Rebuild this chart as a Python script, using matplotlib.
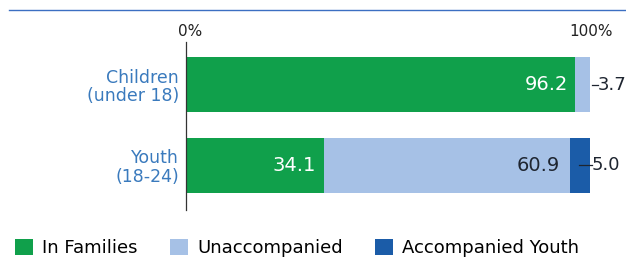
import matplotlib.pyplot as plt
import matplotlib.lines as mlines

groups = ['Children\n(under 18)', 'Youth\n(18-24)']
in_families = [96.2, 34.1]
unaccompanied = [3.7, 60.9]
accompanied_youth = [0.0, 5.0]
series_names = ['In Families', 'Unaccompanied', 'Accompanied Youth']

green = '#10a04b'
light_blue = '#a6c1e6'
dark_blue = '#1b5ca8'
label_blue = '#3a7abd'
dark_text = '#1e2530'

plt.rcParams['font.family'] = ['DejaVu Sans']

fig = plt.figure(figsize=(6.26, 2.58), dpi=100)
# axes spans x 186..590 px and y 42..210 px
ax = fig.add_axes([186 / 626, 1 - 210 / 258, 404 / 626, 168 / 258])

y = list(range(len(groups)))
h = 0.68
left3 = [a + b for a, b in zip(in_families, unaccompanied)]
b1 = ax.barh(y, in_families, height=h, color=green, label=series_names[0])
b2 = ax.barh(y, unaccompanied, left=in_families, height=h, color=light_blue, label=series_names[1])
b3 = ax.barh(y, accompanied_youth, left=left3, height=h, color=dark_blue, label=series_names[2])

ax.set_xlim(0, 100)
ax.set_ylim(1.55, -0.525)
for s in ['top', 'right', 'bottom']:
    ax.spines[s].set_visible(False)
ax.spines['left'].set_color('#333333')
ax.spines['left'].set_linewidth(0.9)
ax.set_yticks(y)
ax.set_yticklabels(groups, color=label_blue, fontsize=12.5, linespacing=1.05)
ax.tick_params(axis='y', length=0, pad=5)
ax.set_xticks([])
for xv, lab in [(0, '0%'), (100, '100%')]:
    ax.annotate(lab, xy=(xv, 1), xycoords=('data', 'axes fraction'), xytext=(3 if xv == 0 else 1, 2),
                textcoords='offset points', ha='center', va='bottom', fontsize=11, color='#222222')

# inside labels
ax.text(in_families[0] - 1.5, 0, f'{in_families[0]:.1f}', ha='right', va='center', color='white', fontsize=14)
ax.text(in_families[1] - 2.0, 1, f'{in_families[1]:.1f}', ha='right', va='center', color='white', fontsize=14)
ax.text(left3[1] - 2.4, 1, f'{unaccompanied[1]:.1f}', ha='right', va='center', color=dark_text, fontsize=14)

# outside labels with leader lines
end0 = left3[0]
ax.plot([end0 + 0.6, end0 + 2.0], [0, 0], color=dark_text, lw=0.9, clip_on=False)
ax.text(end0 + 1.9, 0, f'{unaccompanied[0]:.1f}', ha='left', va='center', color=dark_text, fontsize=13)
end1 = left3[1] + accompanied_youth[1]
ax.plot([end1 - 2.7, end1 + 0.5], [1, 1], color=dark_text, lw=0.9, clip_on=False)
ax.text(end1 + 0.5, 1, f'{accompanied_youth[1]:.1f}', ha='left', va='center', color=dark_text, fontsize=13)

# top rule
fig.add_artist(mlines.Line2D([9 / 626, 1], [1 - 10 / 258, 1 - 10 / 258], color='#3c6fc2', lw=1))

fig.legend(handles=[b1, b2, b3], labels=series_names, loc='center left',
           bbox_to_anchor=(15 / 626, 1 - 248 / 258), ncol=3, frameon=False, fontsize=13,
           handlelength=1.0, handleheight=1.0, handletextpad=0.5, columnspacing=1.8,
           borderpad=0, borderaxespad=0)

fig.savefig('out.png', dpi=100)
